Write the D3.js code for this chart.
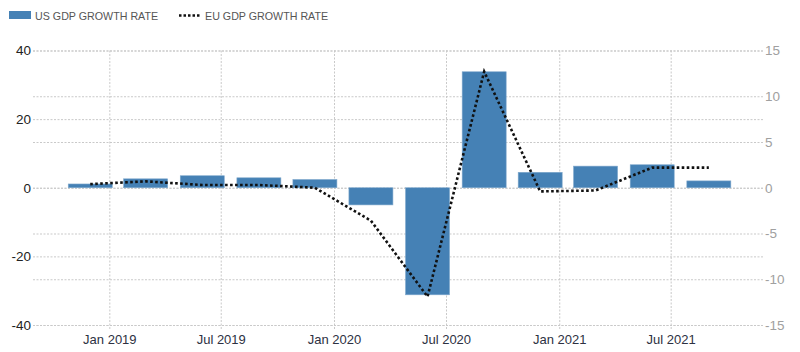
<!DOCTYPE html>
<html>
<head>
<meta charset="utf-8">
<script src="https://cdn.jsdelivr.net/npm/d3@7"></script>
<style>
  html, body { margin: 0; padding: 0; background: #fff; }
  svg { display: block; font-family: "Liberation Sans", Arial, sans-serif; }
</style>
</head>
<body>
<svg id="chart" width="800" height="352"></svg>
<script>
// Quarterly periods (bar positions), US annualized growth, EU QoQ growth
const periods = ["2018-12-01", "2019-03-01", "2019-06-01", "2019-09-01", "2019-12-01", "2020-03-01",
                 "2020-06-01", "2020-09-01", "2020-12-01", "2021-03-01", "2021-06-01", "2021-09-01"];
const usGrowth = [1.1, 2.6, 3.5, 2.9, 2.4, -5.0, -31.2, 33.8, 4.5, 6.3, 6.7, 2.0];
const euGrowth = [0.4, 0.7, 0.3, 0.3, 0.0, -3.6, -11.9, 12.7, -0.4, -0.3, 2.2, 2.2];
const leftTicks = [-40, -20, 0, 20, 40];
const rightTicks = [-15, -10, -5, 0, 5, 10, 15];
const dateTicks = ["2019-01-01", "2019-07-01", "2020-01-01", "2020-07-01", "2021-01-01", "2021-07-01"];
const seriesNames = ["US GDP GROWTH RATE", "EU GDP GROWTH RATE"];

const parse = d3.timeParse("%Y-%m-%d");
const data = periods.map((p, i) => ({ date: parse(p), us: usGrowth[i], eu: euGrowth[i] }));

const svg = d3.select("#chart");
const plot = { left: 33, right: 763, top: 50.5, bottom: 325 };

// Scales
const x = d3.scaleTime()
    .domain([parse("2018-08-30"), parse("2021-11-28")])
    .range([plot.left, plot.right]);
const yL = d3.scaleLinear().domain([-40, 40]).range([plot.bottom, plot.top]);
const yR = d3.scaleLinear().domain([-15, 15]).range([plot.bottom, plot.top]);
const barWidth = 44;

const gridColor = "#c9c9c9";

// Vertical gridlines + bottom axis
const xAxis = svg.append("g")
    .attr("transform", `translate(0, ${plot.top})`)
    .call(d3.axisBottom(x)
        .tickValues(dateTicks.map(parse))
        .tickSize(plot.bottom - plot.top + 5)
        .tickPadding(5)
        .tickFormat(d3.timeFormat("%b %Y")));
xAxis.select(".domain").remove();
xAxis.selectAll(".tick line")
    .attr("stroke", gridColor)
    .attr("stroke-dasharray", "2,1.5");
xAxis.selectAll(".tick text")
    .attr("fill", "#2d3142")
    .attr("style", "font-size: 13px");

// Left axis with horizontal gridlines (plain hyphen minus, as in the original)
const yAxisL = svg.append("g")
    .attr("transform", `translate(${plot.left}, 0)`)
    .call(d3.axisLeft(yL).tickValues(leftTicks).tickSize(0).tickPadding(2).tickFormat(String));
yAxisL.select(".domain").remove();
yAxisL.selectAll(".tick text")
    .attr("fill", "#222")
    .attr("style", "font-size: 13.5px");
yAxisL.selectAll(".tick").append("line")
    .attr("x1", 0).attr("x2", plot.right - plot.left)
    .attr("stroke", gridColor)
    .attr("stroke-dasharray", "2,1.5");

// Right axis with horizontal gridlines
const yAxisR = svg.append("g")
    .attr("transform", `translate(${plot.right}, 0)`)
    .call(d3.axisRight(yR).tickValues(rightTicks).tickSize(0).tickPadding(2).tickFormat(String));
yAxisR.select(".domain").remove();
yAxisR.selectAll(".tick text")
    .attr("fill", "#a0a0a0")
    .attr("style", "font-size: 13.5px");
yAxisR.selectAll(".tick").append("line")
    .attr("x1", plot.left - plot.right).attr("x2", 0)
    .attr("stroke", gridColor)
    .attr("stroke-dasharray", "2,1.5");

// US bars
svg.append("g").selectAll("rect")
    .data(data)
    .join("rect")
    .attr("x", d => x(d.date) - barWidth / 2)
    .attr("width", barWidth)
    .attr("y", d => yL(Math.max(0, d.us)))
    .attr("height", d => Math.abs(yL(d.us) - yL(0)))
    .attr("fill", "#4581b5")
    .attr("stroke", "#7fa8cc")
    .attr("stroke-width", 0.6);

// EU dotted line
const line = d3.line().x(d => x(d.date)).y(d => yR(d.eu));
svg.append("path")
    .datum(data)
    .attr("fill", "none")
    .attr("stroke", "#111")
    .attr("stroke-width", 2.6)
    .attr("stroke-dasharray", "2.6,2.4")
    .attr("d", line);

// Legend
const legend = svg.append("g");
legend.append("rect")
    .attr("x", 9).attr("y", 11).attr("width", 22).attr("height", 8)
    .attr("fill", "#4581b5");
legend.append("text")
    .attr("x", 35).attr("y", 20)
    .attr("fill", "#555")
    .attr("style", "font-size: 10.7px")
    .text(seriesNames[0]);
legend.append("line")
    .attr("x1", 179).attr("x2", 200).attr("y1", 15.5).attr("y2", 15.5)
    .attr("stroke", "#111")
    .attr("stroke-width", 2.5)
    .attr("stroke-dasharray", "2.5,2");
legend.append("text")
    .attr("x", 205).attr("y", 20)
    .attr("fill", "#555")
    .attr("style", "font-size: 10.7px")
    .text(seriesNames[1]);
</script>
</body>
</html>
